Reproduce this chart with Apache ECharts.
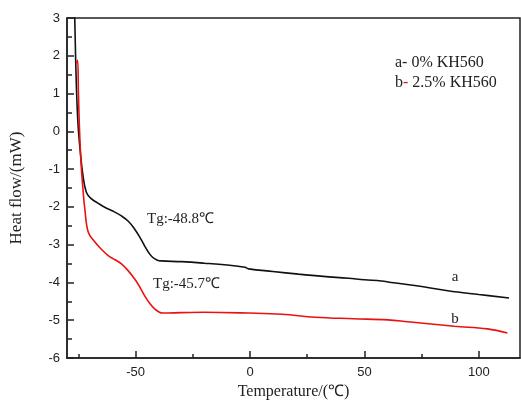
<!DOCTYPE html>
<html>
<head>
<meta charset="utf-8">
<script src="https://cdn.jsdelivr.net/npm/echarts@6/dist/echarts.min.js"></script>
<style>
  html, body { margin: 0; padding: 0; background: #fff; }
  #dsc { width: 521px; height: 405px; }
</style>
</head>
<body>
<div id="dsc"></div>
<script>
// curve a: 0% KH560 (black)
var tempA = [-76.8, -76.4, -75.9, -75.2, -74.3, -73.0, -71.5, -69.3, -66.5, -63.5, -60.0, -56.2, -53.2,
  -50.4, -48.2, -46.1, -44.2, -42.5, -40.5, -38.8, -30.0, -20.0, -10.0, -2.2, -0.6, 10.0, 21.2,
  32.0, 43.0, 50.0, 57.4, 61.7, 72.0, 86.4, 100.0, 113.2];
var flowA = [3.6, 2.4, 1.2, 0.2, -0.47, -1.18, -1.62, -1.79, -1.9, -2.01, -2.11, -2.24, -2.38,
  -2.59, -2.8, -3.03, -3.22, -3.34, -3.41, -3.43, -3.45, -3.49, -3.54, -3.6, -3.64, -3.71, -3.78,
  -3.84, -3.89, -3.93, -3.96, -4.0, -4.08, -4.22, -4.32, -4.41];

// curve b: 2.5% KH560 (red)
var tempB = [-76.0, -75.4, -75.0, -74.5, -73.8, -73.0, -72.2, -70.7, -67.8, -65.0, -62.0, -59.0, -56.2,
  -53.4, -50.4, -48.2, -46.1, -43.8, -41.7, -39.8, -38.1, -30.0, -20.0, -0.6, 13.9, 28.4,
  45.0, 60.3, 69.0, 89.3, 103.8, 112.5];
var flowB = [1.8, 1.88, 1.0, 0.0, -0.9, -1.55, -2.06, -2.67, -2.93, -3.12, -3.29, -3.4, -3.51,
  -3.68, -3.91, -4.12, -4.35, -4.56, -4.7, -4.78, -4.81, -4.8, -4.79, -4.81, -4.84, -4.92,
  -4.96, -4.99, -5.04, -5.16, -5.23, -5.34];

var xMajor = [-50, 0, 50, 100];
var xMinor = [-75, -25, 25, 75];

function pairs(xs, ys) {
  var out = [];
  for (var i = 0; i < xs.length; i++) out.push([xs[i], ys[i]]);
  return out;
}

var serifFont = '"Liberation Serif", "Times New Roman", serif';
var sansFont = '"Liberation Sans", Arial, sans-serif';

var myChart = echarts.init(document.getElementById('dsc'));

var option = {
  animation: false,
  backgroundColor: '#fff',
  grid: {
    left: 64, right: 1, top: 18, bottom: 46,
    show: true, borderColor: '#222', borderWidth: 1.5
  },
  xAxis: [
    {
      type: 'value', min: -80, max: 118, position: 'bottom',
      axisLine: { onZero: false, lineStyle: { color: '#222', width: 1.5 } },
      axisTick: { inside: true, length: 7, customValues: xMajor, lineStyle: { color: '#222', width: 1.5 } },
      axisLabel: { customValues: xMajor, fontSize: 13, color: '#222', margin: 8, fontFamily: sansFont },
      splitLine: { show: false },
      name: 'Temperature/(\u2103)', nameLocation: 'middle', nameGap: 26,
      nameTextStyle: { fontFamily: serifFont, fontSize: 16, color: '#222' }
    },
    {
      type: 'value', min: -80, max: 118, position: 'bottom', offset: 0,
      axisLine: { show: false, onZero: false },
      axisTick: { inside: true, length: 4, customValues: xMinor, lineStyle: { color: '#222', width: 1.5 } },
      axisLabel: { show: false },
      splitLine: { show: false }
    }
  ],
  yAxis: {
    type: 'value', min: -6, max: 3, interval: 1,
    axisLine: { show: true, onZero: false, lineStyle: { color: '#222', width: 1.5 } },
    axisTick: { inside: true, length: 7, lineStyle: { color: '#222', width: 1.5 } },
    minorTick: { show: true, splitNumber: 2, length: 5, lineStyle: { color: '#222', width: 1.5 } },
    axisLabel: { fontSize: 13, color: '#222', margin: 7, fontFamily: sansFont },
    splitLine: { show: false },
    name: 'Heat flow/(mW)', nameLocation: 'middle', nameGap: 42,
    nameTextStyle: { fontFamily: serifFont, fontSize: 17, color: '#222' }
  },
  series: [
    {
      name: 'a', type: 'line', data: pairs(tempA, flowA),
      showSymbol: false, smooth: 0.4,
      lineStyle: { color: '#111', width: 1.6 }
    },
    {
      name: 'b', type: 'line', data: pairs(tempB, flowB),
      showSymbol: false, smooth: 0.4,
      lineStyle: { color: '#e8130f', width: 1.6 }
    }
  ],
  graphic: [
    { type: 'text', style: { text: 'Tg:-48.8\u2103', x: 147, y: 219, textVerticalAlign: 'middle', fill: '#222', font: '15px ' + serifFont } },
    { type: 'text', style: { text: 'Tg:-45.7\u2103', x: 153, y: 284, textVerticalAlign: 'middle', fill: '#222', font: '15px ' + serifFont } },
    { type: 'text', style: { text: 'a', x: 455, y: 277, textAlign: 'center', textVerticalAlign: 'middle', fill: '#222', font: '15px ' + serifFont } },
    { type: 'text', style: { text: 'b', x: 455, y: 319, textAlign: 'center', textVerticalAlign: 'middle', fill: '#222', font: '15px ' + serifFont } },
    { type: 'text', style: { text: 'a- 0% KH560', x: 395, y: 63, textVerticalAlign: 'middle', fill: '#222', font: '16px ' + serifFont } },
    {
      type: 'text',
      style: {
        text: '{k|b}{r|-}{k| 2.5% KH560}', x: 395, y: 83, textVerticalAlign: 'middle',
        rich: {
          k: { fill: '#222', fontSize: 16, fontFamily: serifFont },
          r: { fill: '#e8130f', fontSize: 16, fontFamily: serifFont }
        }
      }
    }
  ]
};

option && myChart.setOption(option);
</script>
</body>
</html>
